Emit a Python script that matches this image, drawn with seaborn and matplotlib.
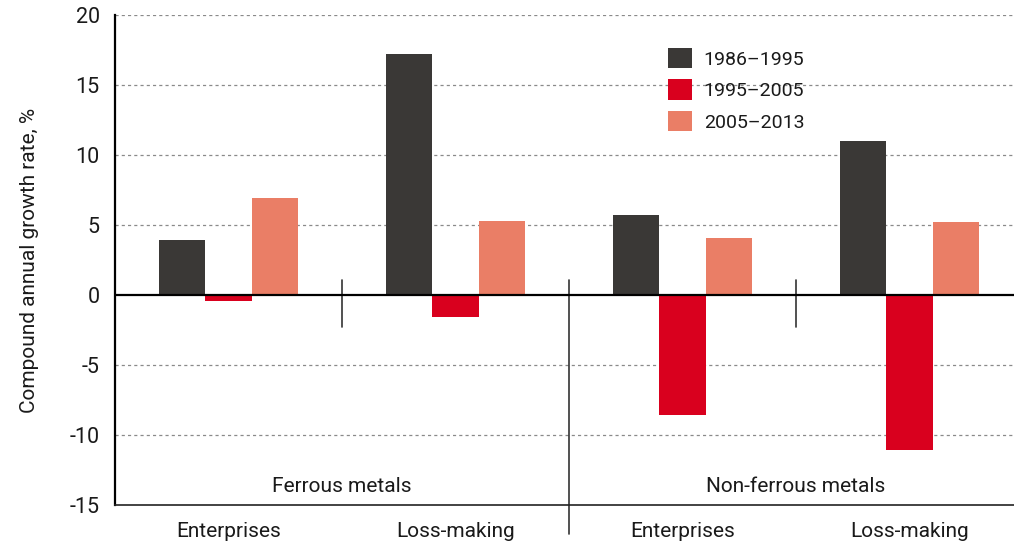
import matplotlib
matplotlib.use("Agg")
import matplotlib.pyplot as plt
import seaborn as sns
import pandas as pd

# data
metal_groups = ["Ferrous metals", "Non-ferrous metals"]
bar_labels = ["Enterprises", "Loss-making", "Enterprises", "Loss-making"]
periods = ["1986\u20131995", "1995\u20132005", "2005\u20132013"]
growth_1986_1995 = [3.9, 17.2, 5.7, 11.0]
growth_1995_2005 = [-0.4, -1.6, -8.6, -11.1]
growth_2005_2013 = [6.9, 5.3, 4.1, 5.2]

colors = ["#3a3836", "#d9001e", "#ea7e66"]

sns.set_style("white")
plt.rcParams["font.family"] = ["Roboto", "DejaVu Sans"]

slots = [f"{g}|{b}" for g, b in zip(
    [metal_groups[0]] * 2 + [metal_groups[1]] * 2, bar_labels)]
rows = []
for period, values in zip(periods, [growth_1986_1995, growth_1995_2005, growth_2005_2013]):
    for slot, v in zip(slots, values):
        rows.append({"slot": slot, "period": period, "value": v})
df = pd.DataFrame(rows)

fig = plt.figure(figsize=(10.14, 5.46), dpi=100)
ax = fig.add_axes([115 / 1014, 41 / 546, 1 - 115 / 1014, 490 / 546])

sns.barplot(data=df, x="slot", y="value", hue="period", order=slots,
            hue_order=periods, palette=colors, width=0.61, saturation=1,
            edgecolor="none", ax=ax)

ax.set_ylim(-15, 20)
ax.set_xlim(-0.5, 3.46)
ax.set_yticks(range(-15, 21, 5))
ax.set_yticklabels([str(t) for t in range(-15, 21, 5)], fontsize=15.5, color="#1a1a1a")
ax.set_xticks(range(4))
ax.set_xticklabels(bar_labels, fontsize=15, color="#1a1a1a")
ax.tick_params(axis="both", length=0)
ax.tick_params(axis="x", pad=12)
ax.tick_params(axis="y", pad=11)
ax.set_xlabel("")
ax.set_ylabel("Compound annual growth rate, %", fontsize=15, color="#1a1a1a", labelpad=22)

for y in [-10, -5, 5, 10, 15, 20]:
    ax.axhline(y, color="#8a8a8a", lw=0.9, ls=(0, (2.5, 2.5)), zorder=0)
ax.axhline(0, color="black", lw=1.6, zorder=3)

for side in ["top", "right"]:
    ax.spines[side].set_visible(False)
ax.spines["left"].set_linewidth(1.6)
ax.spines["left"].set_color("black")
ax.spines["bottom"].set_linewidth(1.2)
ax.spines["bottom"].set_color("#222222")

# separators between bar groups
for x in [0.5, 2.5]:
    ax.plot([x, x], [1.1, -2.3], color="#333333", lw=1.2, clip_on=False)
ax.plot([1.5, 1.5], [1.1, -17.1], color="#333333", lw=1.2, clip_on=False)

for i, g in enumerate(metal_groups):
    ax.text(0.5 + 2 * i, -13.7, g, ha="center", va="center", fontsize=15, color="#1a1a1a")

leg = ax.legend(loc="upper left", frameon=False, fontsize=14,
                handlelength=1.25, handleheight=1.25, handletextpad=0.6,
                labelspacing=0.55, borderaxespad=0)
leg.set_bbox_to_anchor((660 / 1014, 1 - 40 / 546), transform=fig.transFigure)
for t in leg.get_texts():
    t.set_color("#1a1a1a")

fig.savefig("out.png", dpi=100)
